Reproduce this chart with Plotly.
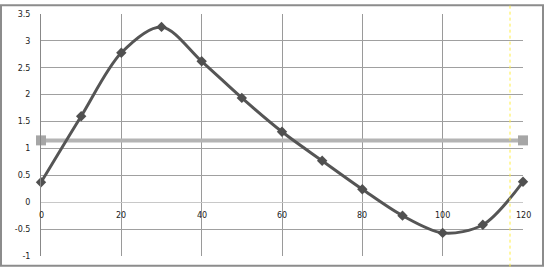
import plotly.graph_objects as go

x_vals = [0, 10, 20, 30, 40, 50, 60, 70, 80, 90, 100, 110, 120]
y_vals = [0.37, 1.6, 2.78, 3.26, 2.62, 1.94, 1.31, 0.77, 0.24, -0.25, -0.57, -0.42, 0.38]
ref_x = [0, 120]
ref_y = [1.15, 1.15]
x_ticks = [0, 20, 40, 60, 80, 100, 120]
y_ticks = [-1, -0.5, 0, 0.5, 1, 1.5, 2, 2.5, 3, 3.5]
y_tick_text = ["-1", "-0.5", "0", "0.5", "1", "1.5", "2", "2.5", "3", "3.5"]

W, H = 544, 271
L, R, T, B = 41, 21, 10, 11
pw, ph = W - L - R, H - T - B

fig = go.Figure()
fig.add_trace(go.Scatter(
    x=ref_x, y=ref_y, mode="lines+markers", cliponaxis=False,
    line=dict(color="#b4b4b4", width=4),
    marker=dict(symbol="square", size=10, color="#a6a6a6"),
    showlegend=False, hoverinfo="skip"))
fig.add_trace(go.Scatter(
    x=x_vals, y=y_vals, mode="lines+markers", cliponaxis=False,
    line=dict(color="#555555", width=3, shape="spline", smoothing=0.9),
    marker=dict(symbol="diamond", size=8, color="#505050"),
    showlegend=False, hoverinfo="skip"))

annotations = []
for t in x_ticks:
    annotations.append(dict(x=t, y=0, xref="x", yref="y", text=str(t),
                            showarrow=False, yshift=-13,
                            font=dict(family="DejaVu Sans", size=8, color="#222")))

shapes = [
    dict(type="rect", xref="paper", yref="paper",
         x0=-(L - 1) / pw, x1=1 + (R - 1) / pw, y0=-(B - 1) / ph, y1=1 + (T - 1) / ph,
         line=dict(color="#8c8c8c", width=2), layer="below"),
    dict(type="line", xref="paper", yref="paper",
         x0=(510 - L) / pw, x1=(510 - L) / pw, y0=-B / ph, y1=1 + T / ph,
         line=dict(color="#ffee44", width=1, dash="dot")),
]

fig.update_layout(
    width=W, height=H,
    margin=dict(l=L, r=R, t=T, b=B),
    paper_bgcolor="white", plot_bgcolor="white",
    font=dict(family="DejaVu Sans", size=8, color="#222"),
    xaxis=dict(range=[0, 120], tickvals=x_ticks, showticklabels=False,
               showgrid=True, gridcolor="#9a9a9a", gridwidth=1,
               zeroline=False, showline=False, fixedrange=True),
    yaxis=dict(range=[-1, 3.5], tickvals=y_ticks, ticktext=y_tick_text,
               showgrid=True, gridcolor="#a0a0a0", gridwidth=1,
               zeroline=True, zerolinecolor="#c8c8c8", zerolinewidth=1,
               showline=True, linecolor="#888888", linewidth=1,
               ticks="", ticklabelstandoff=8, fixedrange=True),
    annotations=annotations,
    shapes=shapes,
)

fig.write_html("out.html")
